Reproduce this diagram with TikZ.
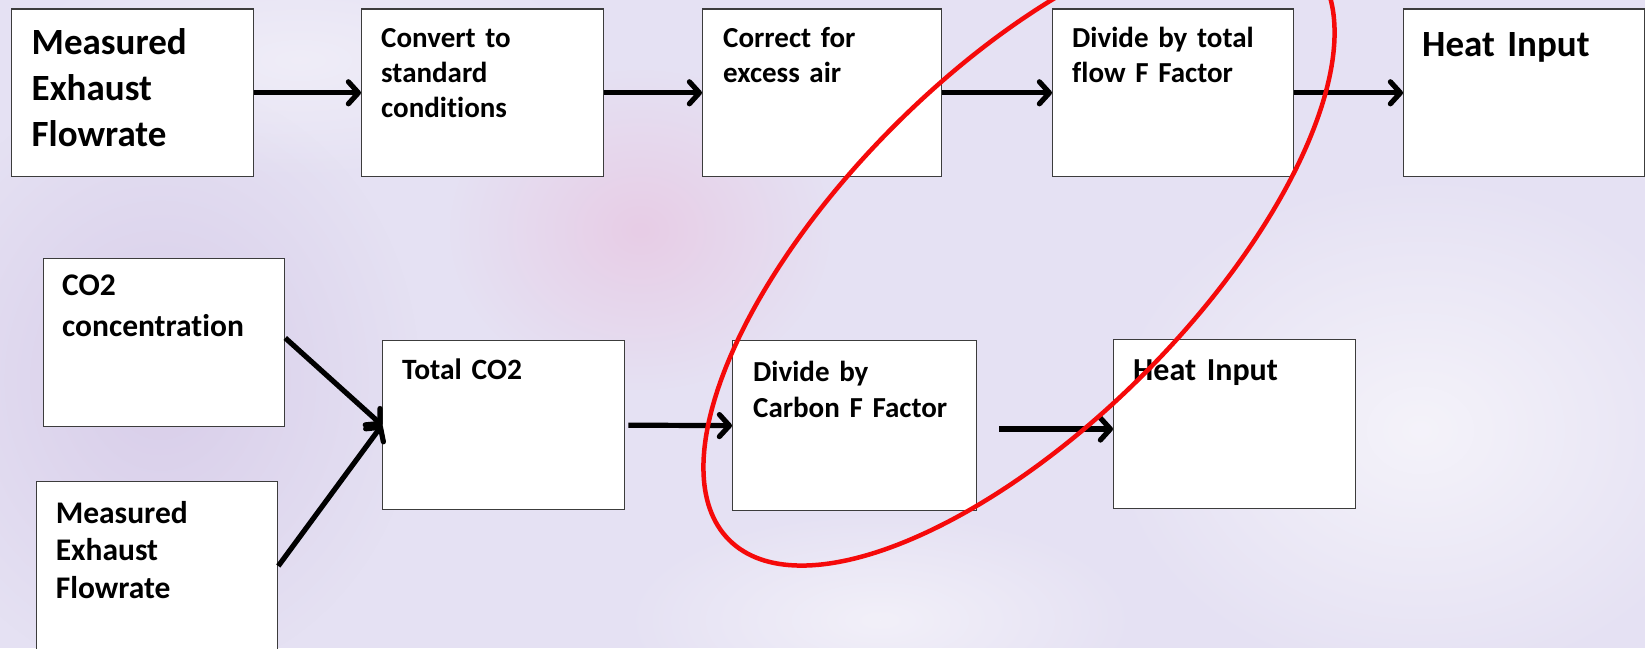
\documentclass[tikz,border=0pt]{standalone}
\usepackage{fontspec}
\setmainfont{Carlito}[Ligatures=NoCommon, WordSpace=0.75]
\usetikzlibrary{arrows.meta,fadings,calc}
\definecolor{bgc}{RGB}{229,225,243}
\definecolor{boxline}{RGB}{60,60,60}
\definecolor{pinkblob}{RGB}{232,205,230}
\definecolor{purpblob}{RGB}{216,205,233}
\definecolor{ringred}{RGB}{245,10,10}
\tikzfading[name=softblob, inner color=transparent!0, outer color=transparent!100]
\begin{document}
\begin{tikzpicture}[x=1pt,y=-1pt,
  box/.style={draw=boxline, fill=white, line width=1.3pt, rectangle, inner sep=0pt, anchor=north west},
  arr/.style={line width=5.2pt, -{Straight Barb[length=10pt,width=22pt,round]}},
  txt/.style={anchor=base west, inner sep=0pt, align=left, text width=225pt, font=\bfseries},
  big/.style={txt, font=\bfseries\fontsize{37}{46}\selectfont},
  mid/.style={txt, font=\bfseries\fontsize{31.5}{39}\selectfont},
  small/.style={txt, font=\bfseries\fontsize{29}{35}\selectfont},
  blob/.style={path fading=softblob}
]
\useasboundingbox (0,0) rectangle (1645,648);
\clip (0,0) rectangle (1645,648);
% background
\fill[bgc] (0,0) rectangle (1645,648);
\fill[blob, purpblob] (160,380) ellipse (260pt and 300pt);
\fill[blob, pinkblob] (640,230) ellipse (190pt and 160pt);
\fill[blob, white, opacity=0.6] (1420,430) ellipse (320pt and 260pt);
\fill[blob, white, opacity=0.5] (880,620) ellipse (260pt and 110pt);
\fill[blob, white, opacity=0.4] (300,60) ellipse (300pt and 120pt);

% top row boxes
\node[box, minimum width=242.5pt, minimum height=167.5pt] (b1) at (10.5,8.4) {};
\node[box, minimum width=242pt, minimum height=167.5pt] (b2) at (361,8.4) {};
\node[box, minimum width=239pt, minimum height=167.5pt] (b3) at (702,8.4) {};
\node[box, minimum width=241pt, minimum height=167.5pt] (b4) at (1052,8.4) {};
\node[box, minimum width=241pt, minimum height=167.5pt] (b5) at (1403,8.4) {};

% bottom boxes
\node[box, minimum width=241pt, minimum height=168pt] (c1) at (43,258) {};
\node[box, minimum width=241pt, minimum height=200pt] (m2) at (36,481) {};
\node[box, minimum width=242pt, minimum height=169pt] (tc) at (382,340) {};
\node[box, minimum width=244pt, minimum height=170pt] (dc) at (732,340) {};
\node[box, minimum width=242pt, minimum height=169pt] (h2) at (1113,339) {};

% texts
\node[big] (t1) at (31.5,54) {Measured\\Exhaust\\Flowrate};
\node[small] (t2) at (381,47) {Convert to\\standard\\conditions};
\node[small] (t3) at (723,47) {Correct for\\excess air};
\node[small] (t4) at (1072,47) {Divide by total\\flow F Factor};
\node[big] (t5) at (1422,56) {Heat Input};
\node[mid, font=\bfseries\fontsize{31.5}{41}\selectfont] (tc1) at (62,295) {CO2\\concentration};
\node[mid, font=\bfseries\fontsize{31.5}{37.5}\selectfont] (tm2) at (55.6,523) {Measured\\Exhaust\\Flowrate};
\node[small, font=\bfseries\fontsize{29.5}{36}\selectfont] (ttc) at (402,379) {Total CO2};
\node[small, font=\bfseries\fontsize{29}{36}\selectfont] (tdc) at (753,381) {Divide by\\Carbon F Factor};
\node[small, font=\bfseries\fontsize{32}{38}\selectfont] (th2) at (1133,380) {Heat Input};

% connectors
\draw[arr] (b1.east) -- (b2.west);
\draw[arr] (b2.east) -- (b3.west);
\draw[arr] (b3.east) -- (b4.west);
\draw[arr] (b4.east) -- (b5.west);
\coordinate (s1) at ($(c1.north east)+(0,80)$);
\coordinate (s2) at ($(m2.north east)+(0,85)$);
\draw[arr] (s1) -- (tc.west);
\draw[arr] (s2) -- (tc.west);
\coordinate (s3) at ($(tc.east)+(3,0)$);
\draw[arr] (s3) -- (dc.west);
\coordinate (s4) at (999,429);
\draw[arr] (s4) -- (s4 -| h2.west);

% red ellipse
\draw[ringred, line width=4.5pt, rotate around={45:(1019,250)}] (1019,250) ellipse (410pt and 176pt);
\end{tikzpicture}
\end{document}
